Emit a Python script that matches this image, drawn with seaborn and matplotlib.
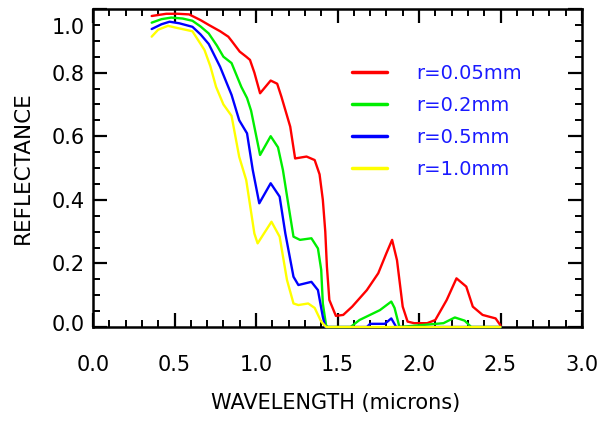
import numpy as np
import pandas as pd
import matplotlib
matplotlib.use("Agg")
import matplotlib.pyplot as plt
import matplotlib.transforms as mtransforms
from matplotlib.ticker import MultipleLocator
import seaborn as sns

# ---- data ----
series_names = ["r=0.05mm", "r=0.2mm", "r=0.5mm", "r=1.0mm"]
series_colors = ["#ff0000", "#00ee00", "#0000ff", "#ffff00"]

x_r005 = [0.36, 0.45, 0.52, 0.59, 0.66, 0.71, 0.78, 0.83, 0.85, 0.90, 0.94, 0.963, 0.99,
          1.025, 1.09, 1.13, 1.156, 1.21, 1.24, 1.31, 1.36, 1.39, 1.41, 1.425, 1.435, 1.45,
          1.49, 1.535, 1.59, 1.68, 1.75, 1.80, 1.835, 1.865, 1.90, 1.93, 1.97, 2.05, 2.10,
          2.17, 2.23, 2.29, 2.33, 2.39, 2.47, 2.50]
y_r005 = [0.978, 0.985, 0.985, 0.983, 0.965, 0.95, 0.93, 0.913, 0.90, 0.866, 0.85, 0.84, 0.80,
          0.735, 0.775, 0.765, 0.724, 0.63, 0.53, 0.536, 0.525, 0.48, 0.40, 0.30, 0.19, 0.085,
          0.035, 0.038, 0.064, 0.116, 0.169, 0.232, 0.274, 0.21, 0.064, 0.017, 0.012, 0.012, 0.022,
          0.085, 0.153, 0.127, 0.064, 0.038, 0.027, 0.005]

x_r02 = [0.36, 0.42, 0.48, 0.55, 0.61, 0.66, 0.71, 0.76, 0.80, 0.85, 0.91, 0.945, 0.97,
         1.025, 1.09, 1.135, 1.165, 1.20, 1.23, 1.27, 1.34, 1.38, 1.40, 1.41, 1.43, 1.44,
         1.58, 1.635, 1.76, 1.83, 1.85, 1.87, 1.88, 2.15, 2.22, 2.28, 2.32, 2.50]
y_r02 = [0.957, 0.968, 0.973, 0.97, 0.963, 0.945, 0.923, 0.885, 0.85, 0.83, 0.755, 0.72, 0.68,
         0.541, 0.60, 0.565, 0.494, 0.38, 0.284, 0.274, 0.279, 0.247, 0.18, 0.074, 0.005, 0.0,
         0.0, 0.022, 0.053, 0.08, 0.06, 0.02, 0.0, 0.012, 0.03, 0.02, 0.0, 0.0]

x_r05 = [0.36, 0.42, 0.47, 0.53, 0.61, 0.66, 0.71, 0.78, 0.826, 0.85, 0.897, 0.945, 0.98,
         1.02, 1.09, 1.145, 1.18, 1.23, 1.26, 1.34, 1.38, 1.41, 1.425, 1.68, 1.70, 1.79,
         1.83, 1.86, 2.50]
y_r05 = [0.937, 0.952, 0.96, 0.955, 0.944, 0.92, 0.89, 0.818, 0.76, 0.73, 0.65, 0.609, 0.494,
         0.389, 0.452, 0.41, 0.294, 0.158, 0.132, 0.142, 0.116, 0.032, 0.0, 0.0, 0.01, 0.01,
         0.027, 0.0, 0.0]

x_r10 = [0.36, 0.40, 0.46, 0.52, 0.61, 0.684, 0.72, 0.755, 0.80, 0.85, 0.897, 0.94, 0.99,
         1.01, 1.095, 1.145, 1.19, 1.23, 1.26, 1.32, 1.36, 1.40, 1.43, 2.50]
y_r10 = [0.913, 0.935, 0.947, 0.94, 0.93, 0.871, 0.82, 0.755, 0.70, 0.664, 0.535, 0.462, 0.294,
         0.263, 0.331, 0.284, 0.148, 0.074, 0.069, 0.074, 0.06, 0.017, 0.0, 0.0]

x_ticks = [0.0, 0.5, 1.0, 1.5, 2.0, 2.5, 3.0]
y_ticks = [0.0, 0.2, 0.4, 0.6, 0.8, 1.0]
x_tick_labels = ["0.0", "0.5", "1.0", "1.5", "2.0", "2.5", "3.0"]
y_tick_labels = ["0.0", "0.2", "0.4", "0.6", "0.8", "1.0"]

frames = []
for name, xs, ys in zip(series_names,
                        [x_r005, x_r02, x_r05, x_r10],
                        [y_r005, y_r02, y_r05, y_r10]):
    frames.append(pd.DataFrame({"wavelength": xs, "reflectance": ys, "radius": name}))
df = pd.concat(frames, ignore_index=True)

# ---- plot ----
sns.set_style("white")
plt.rcParams["font.family"] = ["DejaVu Sans"]
plt.rcParams["text.color"] = "black"
plt.rcParams["axes.labelcolor"] = "black"
plt.rcParams["xtick.color"] = "black"
plt.rcParams["ytick.color"] = "black"

fig = plt.figure(figsize=(6.02, 4.24), dpi=100)
ax = fig.add_axes([93 / 602, 1 - 327 / 424, 489 / 602, 318 / 424])

sns.lineplot(data=df, x="wavelength", y="reflectance", hue="radius",
             hue_order=series_names, palette=series_colors, sort=False,
             estimator=None, linewidth=1.7, ax=ax, legend=True,
             clip_on=False, zorder=3)

ax.set_xlim(0, 3.0)
ax.set_ylim(0, 1.0)
ax.set_xticks(x_ticks)
ax.set_xticklabels(x_tick_labels)
ax.set_yticks(y_ticks)
ax.set_yticklabels(y_tick_labels)
ax.xaxis.set_minor_locator(MultipleLocator(0.1))
ax.yaxis.set_minor_locator(MultipleLocator(0.05))

ax.tick_params(which="both", direction="in", top=True, right=True,
               bottom=True, left=True, color="black", labelcolor="black")
ax.tick_params(which="major", length=10, width=1.6, labelsize=15)
ax.tick_params(which="minor", length=5, width=1.4)
ax.tick_params(axis="x", which="major", pad=20)
ax.tick_params(axis="y", which="major", pad=6)

for sp in ax.spines.values():
    sp.set_linewidth(1.8)
    sp.set_color("black")

# end labels shifted inward like the reference
ylabels = ax.get_yticklabels()
ylabels[-1].set_transform(ylabels[-1].get_transform() +
                          mtransforms.ScaledTranslation(0, -17 / 100, fig.dpi_scale_trans))
ylabels[0].set_transform(ylabels[0].get_transform() +
                         mtransforms.ScaledTranslation(0, 4 / 100, fig.dpi_scale_trans))

ax.set_xlabel("WAVELENGTH (microns)", fontsize=15, va="center", color="black")
ax.xaxis.set_label_coords(0.497, -0.239)
ax.set_ylabel("REFLECTANCE", fontsize=15.5, va="center", color="black")
ax.yaxis.set_label_coords(-0.143, 0.5)

sns.move_legend(ax, loc="upper left", bbox_to_anchor=(0.53, 0.827),
                frameon=False, title=None, fontsize=14, labelcolor="#1a1aff",
                handlelength=1.8, handletextpad=1.5, labelspacing=0.66,
                borderaxespad=0, borderpad=0)
leg = ax.get_legend()
for h in leg.get_lines():
    h.set_linewidth(2.5)

fig.savefig("out.png", dpi=100)
